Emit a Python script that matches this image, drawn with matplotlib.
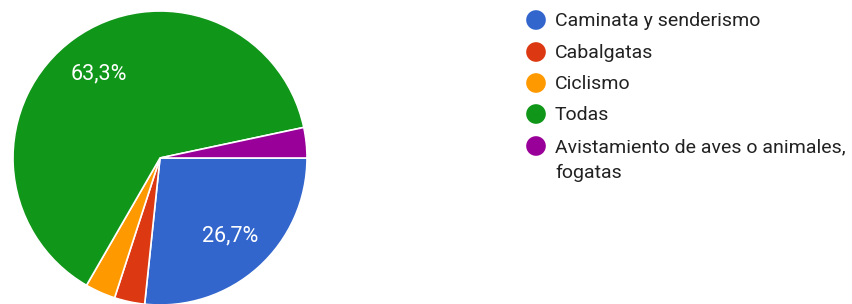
import matplotlib.pyplot as plt

labels = ['Caminata y senderismo', 'Cabalgatas', 'Ciclismo', 'Todas',
          'Avistamiento de aves o animales,\nfogatas']
counts = [8, 1, 1, 19, 1]
colors = ['#3366CC', '#DC3912', '#FF9900', '#109618', '#990099']

plt.rcParams['font.family'] = ['Roboto', 'DejaVu Sans']

fig = plt.figure(figsize=(8.52, 3.04), dpi=100)

# pie axes: center (160, 158) px, radius 147 px
W, H = 852, 304
r = 147
ax = fig.add_axes([(160 - r) / W, (H - 158 - r) / H, 2 * r / W, 2 * r / H])


def pct_label(p):
    return f'{p:.1f}%'.replace('.', ',') if p > 5 else ''


wedges, _, autotexts = ax.pie(counts, colors=colors, startangle=0, counterclock=False,
                              autopct=pct_label, pctdistance=0.71, radius=1,
                              wedgeprops=dict(edgecolor='white', linewidth=1.2))
for t in autotexts:
    t.set_color('white')
    t.set_fontsize(15.5)
ax.set_xlim(-1, 1)
ax.set_ylim(-1, 1)
ax.set_aspect('equal')
ax.axis('off')

# legend drawn by hand
leg = fig.add_axes([0, 0, 1, 1])
leg.set_xlim(0, W)
leg.set_ylim(H, 0)
leg.axis('off')
row_y = [20, 52, 83, 114, 146]
for y, lab, c in zip(row_y, labels, colors):
    leg.scatter([536], [y], s=200, color=c, edgecolors='none')
    for k, line in enumerate(lab.split('\n')):
        leg.text(555, y + 1 + k * 26, line, fontsize=14, color='#222222', va='center')

fig.savefig('out.png', dpi=100, facecolor='white')
